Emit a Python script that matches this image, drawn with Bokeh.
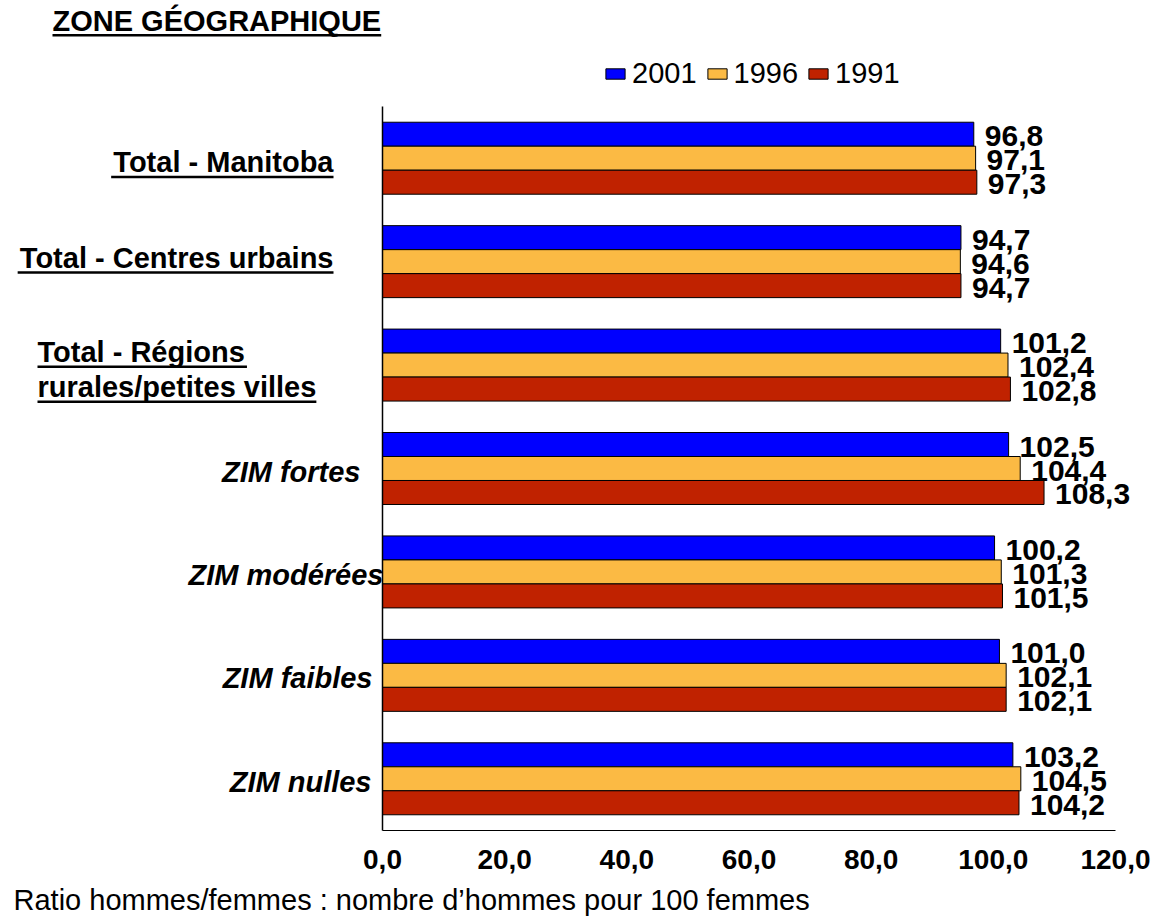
from bokeh.plotting import figure
from bokeh.models import (Range1d, ColumnDataSource, LabelSet, Label, BoxAnnotation,
                          Legend, LegendItem, FixedTicker)
from bokeh.core.properties import value
from bokeh.transform import dodge
from bokeh.embed import file_html
from bokeh.resources import INLINE

# ---------------- data ----------------
categories = ["Total - Manitoba", "Total - Centres urbains",
              "Total - Régions rurales/petites villes",
              "ZIM fortes", "ZIM modérées", "ZIM faibles", "ZIM nulles"]
years = ["2001", "1996", "1991"]
v2001 = [96.8, 94.7, 101.2, 102.5, 100.2, 101.0, 103.2]
v1996 = [97.1, 94.6, 102.4, 104.4, 101.3, 102.1, 104.5]
v1991 = [97.3, 94.7, 102.8, 108.3, 101.5, 102.1, 104.2]
x_ticks = [0, 20, 40, 60, 80, 100, 120]
x_tick_labels = ["0,0", "20,0", "40,0", "60,0", "80,0", "100,0", "120,0"]
title_text = "ZONE GÉOGRAPHIQUE"
footer_text = "Ratio hommes/femmes : nombre d\u2019hommes pour 100 femmes"

# ---------------- layout / style ----------------
W, H = 1160, 919
AX_X0, AX_X1 = 382, 1115        # pixel position of x = 0 and x = 120
AX_YT, AX_YB = 106, 830         # pixel position of top / bottom of category axis
NCAT = len(categories)
XMAX = x_ticks[-1]
XS = XMAX / (AX_X1 - AX_X0)     # data units per pixel (x)
PPU = (AX_YB - AX_YT) / NCAT    # pixels per category slot (y)
BH = 0.232
FONT = "Liberation Sans"
FS = 29
BASE_FIX = 10                   # px correction of the rendered alphabetic baseline
colors = {"2001": "#0000FF", "1996": "#FBBA44", "1991": "#C02200"}
offsets = {"2001": BH, "1996": 0.0, "1991": -BH}

BOLD_W = {" ": 278, "-": 333, "/": 278, "A": 722, "C": 722, "E": 667, "É": 667,
          "G": 778, "H": 722, "I": 278, "M": 833, "N": 722, "O": 778, "P": 667,
          "Q": 778, "R": 722, "T": 611, "U": 722, "Z": 611, "a": 556, "b": 611,
          "c": 556, "e": 556, "é": 556, "g": 611, "i": 278, "l": 278, "n": 611,
          "o": 611, "p": 611, "r": 389, "s": 556, "t": 333, "u": 611, "v": 556}


def text_width(s, fs):
    return sum(BOLD_W.get(ch, 556) for ch in s) * fs / 1000.0


def fmt(v):
    return f"{v:.1f}".replace(".", ",")


pos = [NCAT - i - 0.5 for i in range(NCAT)]
src = ColumnDataSource(dict(
    cat=categories, pos=pos,
    v2001=v2001, v1996=v1996, v1991=v1991,
    l2001=[fmt(v) for v in v2001], l1996=[fmt(v) for v in v1996], l1991=[fmt(v) for v in v1991],
))

x_range = Range1d(-AX_X0 * XS, (W - AX_X0) * XS)
y_range = Range1d(-(H - AX_YB) / PPU, NCAT + AX_YT / PPU)

p = figure(width=W, height=H, x_range=x_range, y_range=y_range,
           output_backend="svg", toolbar_location=None, min_border=0,
           min_border_left=0, min_border_right=0, min_border_top=0, min_border_bottom=0)
p.outline_line_color = None
p.xgrid.grid_line_color = None
p.ygrid.grid_line_color = None
p.background_fill_color = "white"
p.border_fill_color = "white"

renderers = {}
for yr in years:
    r = p.hbar(y=dodge("pos", offsets[yr]), left=0, right="v" + yr, height=BH,
               fill_color=colors[yr], line_color="black", line_width=1, source=src)
    renderers[yr] = r
    p.add_layout(LabelSet(x="v" + yr, y=dodge("pos", offsets[yr]), text="l" + yr,
                          x_offset=11, y_offset=-2, text_baseline="middle",
                          text_font=value(FONT), text_font_size=value("30px"),
                          text_font_style=value("bold"),
                          text_color=value("black"), source=src))

# axes (drawn at the data origin, taking no panel space)
p.xaxis.fixed_location = 0
p.xaxis.bounds = (0, XMAX)
p.xaxis.ticker = FixedTicker(ticks=x_ticks)
p.xaxis.major_label_overrides = dict(zip(x_ticks, x_tick_labels))
p.xaxis.major_label_text_font = FONT
p.xaxis.major_label_text_font_size = "28px"
p.xaxis.major_label_text_font_style = "bold"
p.xaxis.major_label_text_color = "black"
p.xaxis.major_label_standoff = 13
p.xaxis.major_tick_line_color = None
p.xaxis.minor_tick_line_color = None
p.xaxis.axis_line_color = "black"
p.xaxis.axis_line_width = 1

p.yaxis.fixed_location = 0
p.yaxis.bounds = (0, NCAT)
p.yaxis.ticker = FixedTicker(ticks=[])
p.yaxis.major_label_text_font_size = "0px"
p.yaxis.major_tick_line_color = None
p.yaxis.minor_tick_line_color = None
p.yaxis.axis_line_color = "black"
p.yaxis.axis_line_width = 1.5

# legend (screen px from bottom-left of the canvas)
legend = Legend(items=[LegendItem(label=yr, renderers=[renderers[yr]]) for yr in years],
                orientation="horizontal", location=(603, H - 90),
                glyph_width=24, glyph_height=13, label_standoff=5, spacing=8,
                padding=0, margin=0, border_line_color=None, background_fill_alpha=0,
                label_text_font=FONT, label_text_font_size="29px", label_text_color="black")
p.add_layout(legend)


def add_text(text, x_off, y, y_off, align, style, size, underline=False):
    """Text anchored at data x = 0 (category axis) and data y; offsets in px,
    y_off being the wanted baseline offset (positive = up)."""
    p.add_layout(Label(x=0, y=y, x_offset=x_off, y_offset=y_off + BASE_FIX, text=text,
                       text_align=align, text_baseline="alphabetic",
                       text_font=FONT, text_font_size=f"{size}px",
                       text_font_style=style, text_color="black"))
    if underline:
        w = text_width(text, size)
        left = x_off if align == "left" else x_off - w
        base = y + y_off / PPU
        p.add_layout(BoxAnnotation(left=left * XS, right=(left + w) * XS,
                                   top=base - 3.5 / PPU, bottom=base - 6.0 / PPU,
                                   fill_color="black", fill_alpha=1, line_color=None,
                                   level="overlay"))


# category labels: (lines, x px from axis, alignment, style, underline, baselines px below centre)
cat_layout = [
    (["Total - Manitoba"], -49, "right", "bold", True, [14]),
    (["Total - Centres urbains"], -49, "right", "bold", True, [6]),
    (["Total - Régions", "rurales/petites villes"], -345, "left", "bold", True, [-3, 32]),
    (["ZIM fortes"], -22, "right", "bold italic", False, [13]),
    (["ZIM modérées"], 1, "right", "bold italic", False, [13]),
    (["ZIM faibles"], -10, "right", "bold italic", False, [13]),
    (["ZIM nulles"], -11, "right", "bold italic", False, [13]),
]
for i, (lines, xs, align, style, ul, bls) in enumerate(cat_layout):
    for line, bl in zip(lines, bls):
        add_text(line, xs, pos[i], -bl, align, style, FS, underline=ul)

# title (above the category axis top) and footer (below the value axis)
add_text(title_text, 52 - AX_X0, NCAT, AX_YT - 30, "left", "bold", FS, underline=True)
add_text(footer_text, 13 - AX_X0, 0, -(909 - AX_YB), "left", "normal", FS)

open("out.html", "w").write(file_html(p, INLINE))
